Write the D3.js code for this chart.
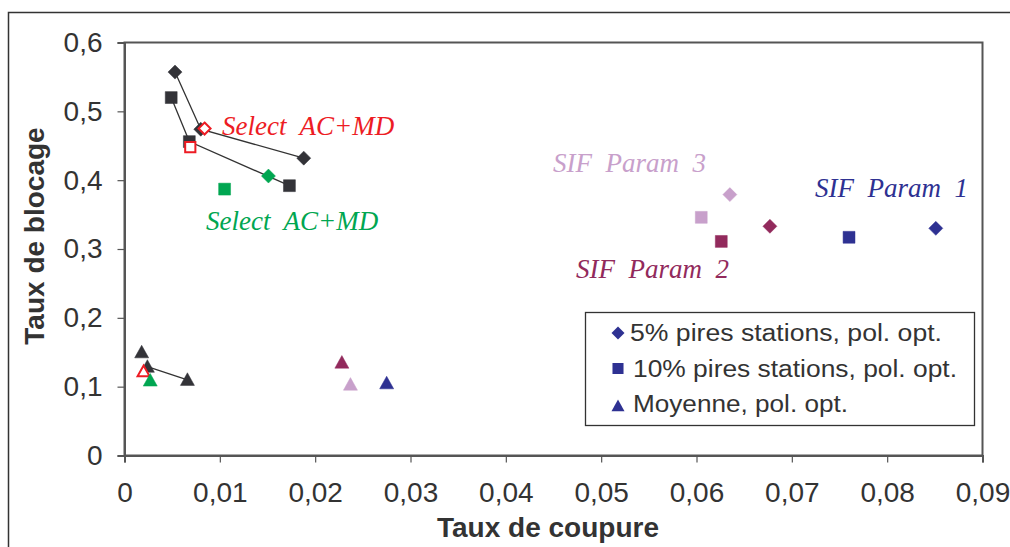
<!DOCTYPE html>
<html>
<head>
<meta charset="utf-8">
<script src="https://cdn.jsdelivr.net/npm/d3@7"></script>
<style>
  body { margin: 0; background: #fff; }
  text { font-family: "Liberation Sans", Arial, sans-serif; fill: #333; }
  .lab { font-family: "Liberation Serif", "Times New Roman", serif; font-style: italic; font-size: 27px; }
</style>
</head>
<body>
<div id="main"></div>
<script>
// points are [taux de coupure, taux de blocage]; order inside each series: losange, carre, triangle
const noirLosange  = [[0.0053, 0.557], [0.0080, 0.474], [0.0188, 0.432]];
const noirCarre    = [[0.0049, 0.520], [0.0068, 0.456], [0.0173, 0.392]];
const noirTriangle = [[0.0018, 0.150], [0.0024, 0.129], [0.0066, 0.110]];
const rougePts = [[0.0084, 0.475], [0.0069, 0.448], [0.0020, 0.122]];
const vertPts  = [[0.0151, 0.406], [0.0105, 0.387], [0.0027, 0.109]];
const sif1Pts  = [[0.0851, 0.330], [0.0760, 0.317], [0.0275, 0.105]];
const sif2Pts  = [[0.0677, 0.333], [0.0626, 0.311], [0.0228, 0.135]];
const sif3Pts  = [[0.0635, 0.379], [0.0605, 0.346], [0.0237, 0.103]];
const shapes = ['losange', 'carre', 'triangle'];

const xTicks = [0, 0.01, 0.02, 0.03, 0.04, 0.05, 0.06, 0.07, 0.08, 0.09];
const yTicks = [0, 0.1, 0.2, 0.3, 0.4, 0.5, 0.6];
const legendLabels = ['5% pires stations, pol. opt.', '10% pires stations, pol. opt.', 'Moyenne, pol. opt.'];

const width = 1010, height = 547;
const m = {left: 124.5, top: 42.5, right: 982.5, bottom: 455.5};

const x = d3.scaleLinear().domain([0, 0.09]).range([m.left, m.right]);
const y = d3.scaleLinear().domain([0, 0.6]).range([m.bottom, m.top]);
const fmt = d => String(+d.toFixed(2)).replace('.', ',');

let svg = d3.select('#main').append('svg')
    .attr('width', width)
    .attr('height', height);

// outer frame (goes past the right/bottom edge)
svg.append('rect')
    .attr('x', 8.5).attr('y', 12.5)
    .attr('width', 1020).attr('height', 560)
    .attr('fill', 'none').attr('stroke', '#333').attr('stroke-width', 1.5);

// plot box
svg.append('rect')
    .attr('x', m.left).attr('y', m.top)
    .attr('width', m.right - m.left).attr('height', m.bottom - m.top)
    .attr('fill', 'none').attr('stroke', '#555').attr('stroke-width', 2);

// axes
let xAxis = svg.append('g')
    .attr('transform', `translate(0,${m.bottom})`)
    .call(d3.axisBottom(x).tickValues(xTicks).tickFormat(fmt).tickSize(7).tickPadding(20));
let yAxis = svg.append('g')
    .attr('transform', `translate(${m.left},0)`)
    .call(d3.axisLeft(y).tickValues(yTicks).tickFormat(fmt).tickSize(7).tickPadding(15));
[xAxis, yAxis].forEach(a => {
    a.select('.domain').attr('stroke', '#555').attr('stroke-width', 2);
    a.selectAll('.tick line').attr('stroke', '#555').attr('stroke-width', 1.2);
    a.selectAll('.tick text').style('font-size', '28px').attr('fill', '#333')
        .style('font-family', '"Liberation Sans", Arial, sans-serif');
});

svg.append('text')
    .attr('x', 548).attr('y', 537)
    .attr('text-anchor', 'middle')
    .style('font-size', '28px').style('font-weight', 'bold')
    .text('Taux de coupure');
svg.append('text')
    .attr('transform', 'translate(44,236) rotate(-90)')
    .attr('text-anchor', 'middle')
    .style('font-size', '28px').style('font-weight', 'bold')
    .text('Taux de blocage');

// marker shapes
function shapePath(kind, s) {
    let p = d3.path();
    if (kind === 'losange') {
        p.moveTo(0, -s); p.lineTo(s, 0); p.lineTo(0, s); p.lineTo(-s, 0);
    } else if (kind === 'carre') {
        let h = s * 0.85;
        p.moveTo(-h, -h); p.lineTo(h, -h); p.lineTo(h, h); p.lineTo(-h, h);
    } else {
        p.moveTo(0, -s); p.lineTo(s, s * 0.8); p.lineTo(-s, s * 0.8);
    }
    p.closePath();
    return p.toString();
}

const line = d3.line().x(d => x(d[0])).y(d => y(d[1]));
[noirLosange, noirCarre, noirTriangle.slice(1)].forEach(pts => {
    svg.append('path').attr('d', line(pts))
        .attr('fill', 'none').attr('stroke', '#333').attr('stroke-width', 1.3);
});

function drawMarkers(pts, kinds, color, hollow) {
    svg.append('g').selectAll('path')
        .data(pts)
        .enter()
        .append('path')
            .attr('transform', d => `translate(${x(d[0])},${y(d[1])})`)
            .attr('d', (d, i) => shapePath(kinds[i], hollow ? 6 : 7))
            .attr('fill', hollow ? '#fff' : color)
            .attr('stroke', color)
            .attr('stroke-width', hollow ? 2 : 0.5);
}

drawMarkers(noirLosange, ['losange', 'losange', 'losange'], '#333338');
drawMarkers(noirCarre, ['carre', 'carre', 'carre'], '#333338');
drawMarkers(noirTriangle, ['triangle', 'triangle', 'triangle'], '#333338');
drawMarkers(rougePts, shapes, '#ed1c24', true);
drawMarkers(vertPts, shapes, '#00a651');
drawMarkers(sif1Pts, shapes, '#2e3192');
drawMarkers(sif2Pts, shapes, '#922a5c');
drawMarkers(sif3Pts, shapes, '#c8a0cb');

// series labels
const labels = [
    {t: 'Select  AC+MD', x: 222, y: 135, c: '#ed1c24'},
    {t: 'Select  AC+MD', x: 206, y: 230, c: '#00a651'},
    {t: 'SIF  Param  3', x: 553, y: 172, c: '#c8a0cb'},
    {t: 'SIF  Param  1', x: 815, y: 197, c: '#2e3192'},
    {t: 'SIF  Param  2', x: 576, y: 278, c: '#922a5c'}
];
svg.selectAll('.lab')
    .data(labels)
    .enter()
    .append('text')
        .attr('class', 'lab')
        .attr('x', d => d.x).attr('y', d => d.y)
        .style('fill', d => d.c)
        .style('white-space', 'pre')
        .text(d => d.t);

// legend
const legendWidths = [312, 324, 215];
let lg = svg.append('g');
lg.append('rect')
    .attr('x', 585.5).attr('y', 312.5).attr('width', 389).attr('height', 113)
    .attr('fill', '#fff').attr('stroke', '#333').attr('stroke-width', 1.3);
legendLabels.forEach((t, i) => {
    let cy = 333 + i * 35.5;
    lg.append('path')
        .attr('transform', `translate(618,${cy + (i === 2 ? 2 : 0)})`)
        .attr('d', shapePath(shapes[i], 6.5))
        .attr('fill', '#2e3192');
    lg.append('text')
        .attr('x', i === 0 ? 630 : 633).attr('y', cy + 8)
        .attr('textLength', legendWidths[i])
        .attr('lengthAdjust', 'spacingAndGlyphs')
        .style('font-size', '23px')
        .text(t);
});
</script>
</body>
</html>
